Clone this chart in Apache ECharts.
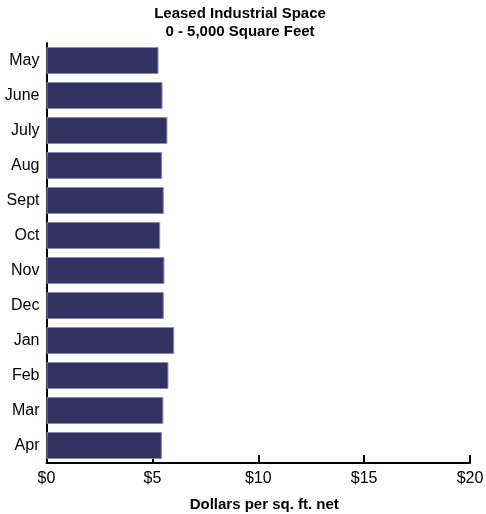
<!DOCTYPE html>
<html><head><meta charset="utf-8">
<script src="https://cdn.jsdelivr.net/npm/echarts@6/dist/echarts.min.js"></script>
<style>html,body{margin:0;padding:0;background:#fff}#c{width:486px;height:514px}</style>
</head><body><div id="c"></div>
<script>
const categories = ["May","June","July","Aug","Sept","Oct","Nov","Dec","Jan","Feb","Mar","Apr"];
const values = [5.29,5.48,5.71,5.46,5.54,5.37,5.57,5.54,6.03,5.76,5.52,5.45];
const xTicks = [0,5,10,15,20];
const FONT = "'Liberation Sans Narrow','Liberation Sans',Arial,sans-serif";
const chart = echarts.init(document.getElementById('c'), null, {renderer:'canvas'});
chart.setOption({
  animation:false,
  backgroundColor:'#fff',
  title:{
    text:'Leased Industrial Space\n0 - 5,000 Square Feet',
    left:240, top:5, textAlign:'center', padding:0,
    textStyle:{fontFamily:FONT,fontWeight:'bold',fontSize:15,lineHeight:18,color:'#000'}
  },
  grid:{left:46.5,right:16,top:43,bottom:51,containLabel:false,outerBoundsMode:'none'},
  xAxis:{
    type:'value', min:xTicks[0], max:xTicks[xTicks.length-1], interval:5,
    name:'Dollars per sq. ft. net', nameLocation:'middle', nameGap:34,
    nameTextStyle:{fontFamily:FONT,fontWeight:'bold',fontSize:15,color:'#000',padding:[0,0,0,12]},
    axisLine:{show:true,lineStyle:{color:'#000',width:2}},
    axisTick:{show:true,inside:true,length:8,lineStyle:{color:'#000',width:2}},
    axisLabel:{formatter:v=>'$'+v,fontFamily:FONT,fontSize:16,color:'#000',margin:8},
    splitLine:{show:false}
  },
  yAxis:{
    type:'category', data:categories, inverse:true,
    axisLine:{show:true,lineStyle:{color:'#000',width:2}},
    axisTick:{show:false},
    axisLabel:{fontFamily:FONT,fontSize:16,color:'#000',margin:7}
  },
  series:[{
    type:'bar', data:values, barWidth:27,
    itemStyle:{color:'#333363',borderColor:'#8a8ab0',borderWidth:1}
  }]
});
</script></body></html>
